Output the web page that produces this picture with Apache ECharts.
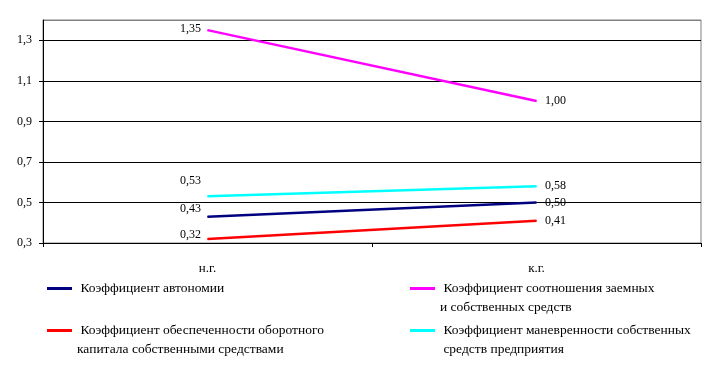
<!DOCTYPE html>
<html><head><meta charset="utf-8">
<script src="https://cdn.jsdelivr.net/npm/echarts@6/dist/echarts.min.js"></script>
<style>html,body{margin:0;padding:0;background:#fff}#c{width:710px;height:366px}</style>
</head><body><div id="c"></div>
<script>
const categories = ['н.г.', 'к.г.'];
const autonomy = [0.43, 0.50];
const debtEquity = [1.35, 1.00];
const workingCapital = [0.32, 0.41];
const maneuverability = [0.53, 0.58];
const seriesNames = [
  'Коэффициент автономии',
  'Коэффициент соотношения заемных и собственных средств',
  'Коэффициент обеспеченности оборотного капитала собственными средствами',
  'Коэффициент маневренности собственных средств предприятия'
];
const legendText = [
  ' Коэффициент автономии',
  '\u00a0\n Коэффициент соотношения заемных\nи собственных средств',
  '\u00a0\n Коэффициент обеспеченности оборотного\nкапитала собственными средствами',
  '\u00a0\n Коэффициент маневренности собственных\n средств предприятия'
];
const colors = ['#000080', '#FF00FF', '#FF0000', '#00FFFF'];
const values = [autonomy, debtEquity, workingCapital, maneuverability];
// label offsets for the first point (style only)
const firstOffsets = [[0, -8], [0, -1], [0, -4], [0, -16]];
const FONT = '"Liberation Serif", "DejaVu Serif", serif';
const fmt = v => v.toFixed(2).replace('.', ',');

const chart = echarts.init(document.getElementById('c'), null, {renderer: 'canvas'});

const series = values.map((vals, i) => ({
  name: seriesNames[i],
  type: 'line',
  color: colors[i],
  symbol: 'circle',
  symbolSize: 1,
  lineStyle: {width: 2.5, color: colors[i]},
  itemStyle: {color: colors[i]},
  emphasis: {disabled: true},
  animation: false,
  data: vals.map((v, j) => ({
    value: v,
    label: j === 0
      ? {show: true, position: 'left', distance: 6, offset: firstOffsets[i]}
      : {show: true, position: 'right', distance: 8}
  })),
  label: {
    show: true, color: '#000', fontFamily: FONT, fontSize: 12,
    formatter: p => fmt(p.value)
  }
}));

const legendPos = [
  {left: 47, top: 279},
  {left: 410, top: 260},
  {left: 47, top: 302},
  {left: 410, top: 302}
];
const legends = legendPos.map((pos, i) => ({
  data: [seriesNames[i]],
  left: pos.left, top: pos.top,
  padding: 0,
  icon: 'rect', itemWidth: 25, itemHeight: 3,
  selectedMode: false,
  formatter: () => legendText[i],
  textStyle: {fontFamily: FONT, fontSize: 13.5, color: '#000', lineHeight: 19}
}));

chart.setOption({
  animation: false,
  backgroundColor: '#fff',
  grid: {left: 43, right: 9, top: 20, bottom: 123, show: true, borderColor: '#808080', borderWidth: 1, containLabel: false},
  legend: legends,
  xAxis: {
    type: 'category', data: categories, boundaryGap: true,
    axisLine: {lineStyle: {color: '#000', width: 1}},
    axisTick: {show: true, length: 4, lineStyle: {color: '#000'}},
    axisLabel: {fontFamily: FONT, fontSize: 13, color: '#000', margin: 19}
  },
  yAxis: {
    type: 'value', min: 0.3, max: 1.4, interval: 0.2,
    axisLine: {show: true, lineStyle: {color: '#000', width: 1}},
    axisTick: {show: true, length: 4, lineStyle: {color: '#000'}},
    axisLabel: {fontFamily: FONT, fontSize: 12, color: '#000', margin: 11, showMaxLabel: false,
      formatter: v => (Math.round(v * 10) / 10).toFixed(1).replace('.', ',')},
    splitLine: {show: true, lineStyle: {color: ['#000', '#000', '#000', '#000', '#000', '#000', '#808080'], width: 1}}
  },
  series: series
});
</script></body></html>
